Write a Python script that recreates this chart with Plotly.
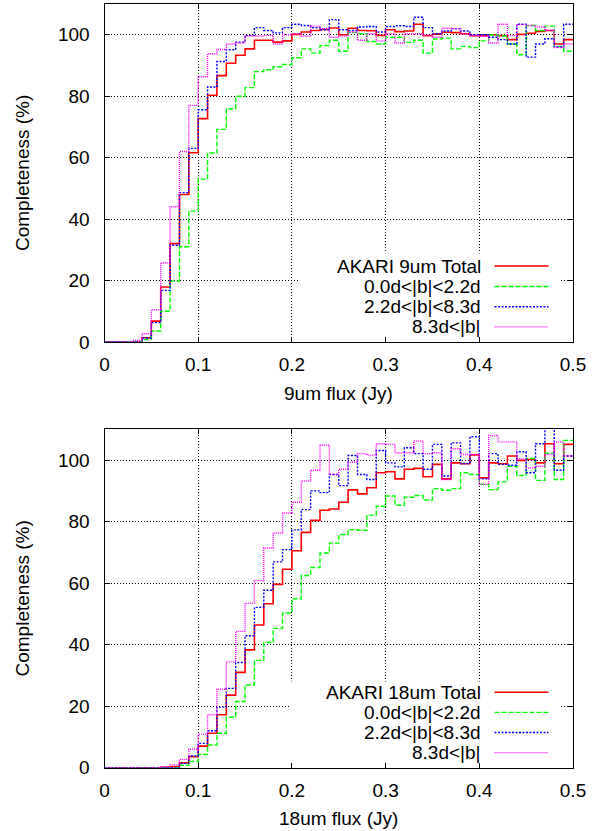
import numpy as np
import plotly.graph_objects as go

# ---------------- data ----------------
bin_edges = [round(i * 0.01, 2) for i in range(51)]  # 0.00 ... 0.50 (bin width 0.01 Jy)

# 9um completeness (%) per bin
red9 = [0, 0, 0, 0, 1.4, 6.8, 17.9, 32, 48, 61.6,
        72.7, 80.3, 86.7, 90.7, 93.3, 95.4, 98.2, 98.2, 97.6, 98,
        100.1, 100.9, 101.4, 101.7, 102.2, 100, 102.1, 101.4, 101.3, 99.8,
        101.6, 101, 101.2, 103.4, 99.7, 100.2, 100.8, 100.7, 100.3, 99.7,
        99.7, 100, 99.7, 98.4, 100.1, 100.5, 101.1, 101.4, 97, 98.4]
green9 = [0, 0, 0, 0, 0.8, 3.6, 10, 19.8, 31, 42.6,
          53, 61.5, 69.2, 75.9, 80, 82.8, 88, 88.6, 89.6, 90.3,
          92.5, 95.4, 94, 96.5, 98.2, 94.6, 100.7, 100.3, 97.8, 97,
          99.2, 99.2, 97.5, 98.2, 94, 98.6, 98.9, 95.4, 96.2, 95.8,
          98, 99.9, 99.6, 97, 93.5, 103, 101.4, 102.8, 96.2, 94.6]
blue9 = [0, 0, 0, 0, 1.3, 6.3, 16.8, 31.5, 48.6, 63,
         75.6, 83, 91.3, 95.1, 97.6, 99.8, 102.3, 101.4, 100.6, 102.3,
         103.4, 103, 102.3, 101.6, 104.9, 101.6, 101.4, 102.5, 102.7, 100.9,
         102.7, 102.9, 102.7, 105.7, 102.3, 100.3, 101.2, 102, 101.2, 100,
         100, 99.2, 98.4, 97, 103.4, 92.7, 97, 98.7, 96, 103.4]
magenta9 = [0, 0, 0, 0.5, 2.7, 10.5, 25.8, 44, 62, 77,
            86.3, 93.8, 95.2, 97, 97.3, 99.6, 99.6, 99.8, 97, 100,
            100.3, 99.5, 102.8, 102, 99.2, 99.6, 100.9, 98.2, 100.3, 98,
            100.3, 97.3, 100.3, 100.3, 99.8, 99.2, 102.1, 102, 100.3, 99.8,
            99.5, 97.3, 103.4, 99.8, 103.3, 103, 102.5, 101.4, 95.8, 97]

# 18um completeness (%) per bin
red18 = [0, 0, 0, 0, 0, 0, 0.1, 0.3, 1.6, 3.6,
         7, 11.2, 17.2, 23.6, 31, 38.3, 46.4, 53.3, 59.6, 64.5,
         70.5, 76.5, 80.4, 83.7, 84.1, 86.3, 90.3, 89, 91, 95.9,
         96.2, 93.9, 97, 97.3, 94.6, 98.6, 93.9, 99.1, 98.8, 101.7,
         94.2, 99.1, 98.8, 101.3, 99.9, 100.2, 99.1, 105.3, 98.8, 105.1]
green18 = [0, 0, 0, 0, 0, 0, 0, 0, 0.8, 2,
           4.3, 7.4, 11.2, 16.4, 21.5, 26.9, 34.9, 40.7, 45.3, 50.3,
           54.9, 62.5, 65.1, 69.8, 73, 75.8, 77.4, 77.2, 82.1, 85,
           88.3, 85.3, 87.9, 88.5, 87, 90.7, 90.2, 90.7, 95.9, 95.3,
           92.1, 90.4, 92.9, 98, 95, 100.5, 93.4, 102.2, 93.7, 106.4]
blue18 = [0, 0, 0, 0, 0, 0, 0, 0, 1.4, 3.8,
          7.9, 12, 19.7, 25.8, 34.2, 42.9, 52.1, 57.7, 66.9, 70.9,
          77.3, 83.9, 90, 89.4, 95.3, 91.7, 101.5, 95.3, 93.7, 103.1,
          99.1, 97.8, 104, 102.1, 97, 105.1, 94.8, 105.6, 98.9, 107.6,
          93.9, 102.1, 98.6, 98.3, 102.7, 95.9, 105.3, 113, 96.7, 101.3]
magenta18 = [0, 0, 0, 0, 0, 0, 0.3, 0.9, 2.7, 6,
             10.9, 17.2, 25.5, 34.4, 44.3, 53.5, 60.8, 71.4, 76.3, 82.8,
             86.3, 93.2, 96.7, 104.9, 95.3, 97, 99.3, 102.1, 101.6, 105.3,
             105.1, 102.4, 102.4, 106.2, 102.1, 102.4, 93.7, 103.7, 101.8, 101.8,
             92.1, 108, 105.9, 105.9, 100.4, 97.5, 98, 101.8, 105.9, 101.3]

x_ticks = [0, 0.1, 0.2, 0.3, 0.4, 0.5]
x_ticktext = ["0", "0.1", "0.2", "0.3", "0.4", "0.5"]
y_ticks = [0, 20, 40, 60, 80, 100]
y_ticktext = ["0", "20", "40", "60", "80", "100"]

labels9 = ["AKARI 9um Total", "0.0d<|b|<2.2d", "2.2d<|b|<8.3d", "8.3d<|b|"]
labels18 = ["AKARI 18um Total", "0.0d<|b|<2.2d", "2.2d<|b|<8.3d", "8.3d<|b|"]

# ---------------- styles ----------------
W, H = 604, 831
FONT = "Liberation Sans, Arial, Helvetica, sans-serif"
FS = 19
FS_KEY = 19
styles = [
    dict(color="#ff0000", width=1.6, dash="solid"),
    dict(color="#00ff00", width=1.4, dash="5px,2px"),
    dict(color="#0000ff", width=1.4, dash="2px,1.5px"),
    dict(color="#ff00ff", width=1.4, dash="1px,1px"),
]

def px_x(p):
    return p / W

def px_y(p):
    return 1 - p / H

fig = go.Figure()

def add_panel(series, xa, ya):
    for vals, st in zip(series, styles):
        fig.add_trace(go.Scatter(
            x=bin_edges, y=list(vals) + [vals[-1]],
            mode="lines", line=dict(shape="hv", **st),
            xaxis=xa, yaxis=ya, showlegend=False, hoverinfo="skip"))

add_panel([red9, green9, blue9, magenta9], "x", "y")
add_panel([red18, green18, blue18, magenta18], "x2", "y2")

# plot area pixel geometry
XL, XR = 104.5, 573
TOP1, BOT1 = 4, 342
TOP2, BOT2 = 429.3, 767.7

axis_common = dict(
    showline=True, linecolor="black", linewidth=1, mirror="ticks",
    ticks="inside", ticklen=5, tickcolor="black", tickwidth=1,
    showgrid=True, gridcolor="black", gridwidth=1, griddash="1px,2px",
    zeroline=False, tickfont=dict(family=FONT, size=FS, color="black"),
    fixedrange=True, automargin=False,
)

layout = dict(
    template="none",
    width=W, height=H, autosize=False, margin=dict(l=0, r=0, t=0, b=0, pad=0),
    paper_bgcolor="white", plot_bgcolor="white", showlegend=False,
    xaxis=dict(domain=[px_x(XL), px_x(XR)], range=[0, 0.5], tickvals=x_ticks,
               ticktext=x_ticktext, anchor="y", ticklabelstandoff=5, **axis_common),
    yaxis=dict(domain=[px_y(BOT1), px_y(TOP1)], range=[0, 110], tickvals=y_ticks,
               ticktext=y_ticktext, anchor="x", ticklabelstandoff=10, **axis_common),
    xaxis2=dict(domain=[px_x(XL), px_x(XR)], range=[0, 0.5], tickvals=x_ticks,
                ticktext=x_ticktext, anchor="y2", ticklabelstandoff=5, **axis_common),
    yaxis2=dict(domain=[px_y(BOT2), px_y(TOP2)], range=[0, 110], tickvals=y_ticks,
                ticktext=y_ticktext, anchor="x2", ticklabelstandoff=10, **axis_common),
)
fig.update_layout(**layout)

shapes = []
annotations = []

# opaque key boxes hiding the grid
for (xr, yr, x0, x1, y1) in [("x", "y", 0.2085, 0.486, 28.9), ("x2", "y2", 0.197, 0.486, 28.0)]:
    shapes.append(dict(type="rect", xref=xr, yref=yr, x0=x0, x1=x1, y0=0.2, y1=y1,
                       fillcolor="white", line=dict(width=0), layer="between"))

# manual key: text right-aligned, sample on the right (gnuplot style)
def add_key(labels, rows):
    for lab, st, yy in zip(labels, styles, rows):
        annotations.append(dict(text=lab, xref="paper", yref="paper", x=px_x(482), y=px_y(yy),
                                xanchor="right", yanchor="middle", showarrow=False,
                                borderpad=0,
                                font=dict(family=FONT, size=FS_KEY, color="black")))
        shapes.append(dict(type="line", xref="paper", yref="paper",
                           x0=px_x(494.5), x1=px_x(548.5), y0=px_y(yy), y1=px_y(yy),
                           line=dict(color=st["color"], width=st["width"], dash=st["dash"])))

add_key(labels9, [266, 286.5, 306.7, 326.9])
add_key(labels18, [692.3, 712.4, 732.5, 752.6])

# axis titles
for txt, yy in [("9um flux (Jy)", 393), ("18um flux (Jy)", 818)]:
    annotations.append(dict(text=txt, xref="paper", yref="paper", x=px_x((XL + XR) / 2), y=px_y(yy),
                            xanchor="center", yanchor="middle", showarrow=False,
                            font=dict(family=FONT, size=FS, color="black")))
for yy in [(TOP1 + BOT1) / 2, (TOP2 + BOT2) / 2]:
    annotations.append(dict(text="Completeness (%)", xref="paper", yref="paper", x=px_x(22), y=px_y(yy),
                            xanchor="center", yanchor="middle", textangle=-90, showarrow=False,
                            font=dict(family=FONT, size=FS, color="black")))

fig.update_layout(shapes=shapes, annotations=annotations)
fig.write_html("out.html", config={"responsive": False, "displayModeBar": False})
